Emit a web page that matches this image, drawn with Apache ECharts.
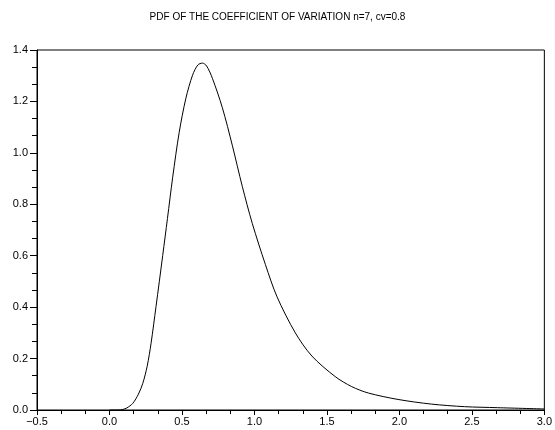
<!DOCTYPE html>
<html><head><meta charset="utf-8">
<script src="https://cdn.jsdelivr.net/npm/echarts@6/dist/echarts.min.js"></script>
<style>html,body{margin:0;padding:0;background:#fff}#c{width:555px;height:430px}</style>
</head><body><div id="c"></div>
<script>
const titleText = 'PDF OF THE COEFFICIENT OF VARIATION n=7, cv=0.8';
const xs = [0.0, 0.06, 0.09, 0.12, 0.161, 0.2, 0.23, 0.26, 0.287, 0.321, 0.367, 0.40, 0.436, 0.481, 0.527, 0.573, 0.61, 0.641, 0.67, 0.71, 0.779, 0.847, 0.916, 0.985, 1.076, 1.156, 1.282, 1.396, 1.557, 1.671, 1.786, 1.991, 2.22, 2.449, 2.678, 3.0];
const ys = [0.0, 0.0, 0.002, 0.008, 0.026, 0.062, 0.104, 0.17, 0.26, 0.402, 0.6, 0.745, 0.905, 1.08, 1.212, 1.302, 1.342, 1.349, 1.338, 1.29, 1.175, 1.03, 0.87, 0.726, 0.565, 0.44, 0.30, 0.21, 0.13, 0.091, 0.066, 0.041, 0.023, 0.013, 0.009, 0.004];
const xTicks = {min: -0.5, max: 3.0, interval: 0.5};
const yTicks = {min: 0, max: 1.4, interval: 0.2};

const chart = echarts.init(document.getElementById('c'));
const font = 'Liberation Sans, Arial, sans-serif';
chart.setOption({
  animation: false,
  title: {text: titleText, left: 'center', top: 7, textStyle: {fontSize: 10, fontWeight: 'normal', color: '#000', fontFamily: font}},
  grid: {left: 37, right: 8, top: 50, bottom: 20, show: true, borderColor: '#000', borderWidth: 1},
  xAxis: {type: 'value', min: xTicks.min, max: xTicks.max, interval: xTicks.interval,
    axisLine: {onZero: false, lineStyle: {color: '#000'}},
    axisTick: {inside: false, length: 5, lineStyle: {color: '#000'}},
    minorTick: {show: true, splitNumber: 3, length: 4, lineStyle: {color: '#000'}},
    splitLine: {show: false},
    axisLabel: {color: '#000', fontSize: 11, fontFamily: font, margin: 6, formatter: v => v.toFixed(1).replace('-', '\u2212')}},
  yAxis: {type: 'value', min: yTicks.min, max: yTicks.max, interval: yTicks.interval,
    axisLine: {onZero: false, lineStyle: {color: '#000'}},
    axisTick: {inside: false, length: 7, lineStyle: {color: '#000'}},
    minorTick: {show: true, splitNumber: 3, length: 5, lineStyle: {color: '#000'}},
    splitLine: {show: false},
    axisLabel: {color: '#000', fontSize: 11, fontFamily: font, margin: 9, formatter: v => v.toFixed(1)}},
  series: [{type: 'line', data: xs.map((x, i) => [x, ys[i]]), smooth: 0.3, showSymbol: false,
    lineStyle: {color: '#000', width: 1}}]
});
</script></body></html>
